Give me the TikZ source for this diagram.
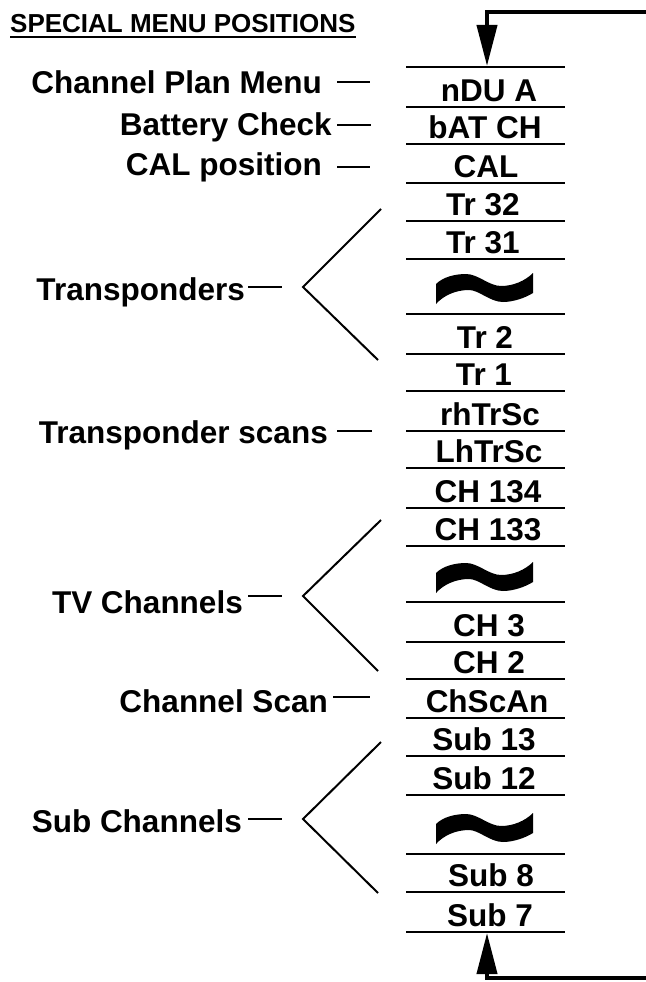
\documentclass[tikz,border=0pt]{standalone}
\usepackage{fontspec}
\setmainfont{Liberation Sans}
\usetikzlibrary{arrows.meta}
\begin{document}
\begin{tikzpicture}[x=1pt,y=-1pt,
  lab/.style={font=\fontsize{31.5}{36}\selectfont\bfseries, inner sep=0pt, anchor=base},
  llab/.style={lab, anchor=base east},
  sepline/.style={line width=2pt},
  tick/.style={line width=2pt},
  brk/.style={line width=2pt, line join=miter},
  loopline/.style={line width=4pt, line join=miter, -{Triangle[width=20pt,length=41pt]}},
  wave/.pic={\fill (-49,16) -- (-49,-4) .. controls (-42,-11) and (-30,-14) .. (-19,-14)
     .. controls (-7,-14) and (4,-2) .. (16,-2) .. controls (28,-2) and (40,-7) .. (48,-15)
     -- (48,5) .. controls (40,10) and (28,14) .. (18,14) .. controls (5,14) and (-6,2) .. (-16,2)
     .. controls (-30,2) and (-42,8) .. (-49,16) -- cycle;}]
\useasboundingbox (0,0) rectangle (645,982);

% title
\node[anchor=base west, font=\fontsize{26}{30}\selectfont\bfseries, inner sep=0pt] (title) at (10,33) {SPECIAL MENU POSITIONS};
\draw[line width=2.7pt] ([yshift=-4pt]title.base west) -- ([yshift=-4pt]title.base east);

% separators
\foreach \y in {67,107,144,183,221,259,314,354,391,431,468,508,546,602,642,679,718,756,795,854,892,932}
  \draw[sepline] (406,\y) -- (565,\y);

% right labels
\foreach \t/\x/\y [count=\i] in {nDU A/489/107, bAT CH/485/144, CAL/486/183, Tr 32/483/221, Tr 31/483/259,
   Tr 2/485/354, Tr 1/484/391, rhTrSc/490/431, LhTrSc/489/468, CH 134/488/508, CH 133/488/546,
   CH 3/489/642, CH 2/489/679, ChScAn/487/718, Sub 13/484/756, Sub 12/484/795, Sub 8/491/892, Sub 7/490/932}
  \node[lab] (r\i) at (\x,\y-6) {\t};

% tildes
\pic at (485,288) {wave};
\pic at (485,577) {wave};
\pic at (485,828) {wave};

% left labels with leader dashes
\node[llab] (l1) at (322,93) {Channel Plan Menu};
\draw[tick] (l1.base east) ++(15,-11) -- ++(33,0);
\node[llab] (l2) at (332,135) {Battery Check};
\draw[tick] (l2.base east) ++(5,-10) -- ++(34,0);
\node[llab] (l3) at (322,175) {CAL position};
\draw[tick] (l3.base east) ++(15,-8) -- ++(33,0);
\node[llab] (l4) at (245,300) {Transponders};
\draw[tick] (l4.base east) ++(3,-13) -- ++(34,0);
\node[llab] (l5) at (328,443) {Transponder scans};
\draw[tick] (l5.base east) ++(9,-12) -- ++(35,0);
\node[llab] (l6) at (243,613) {TV Channels};
\draw[tick] (l6.base east) ++(5,-17) -- ++(34,0);
\node[llab] (l7) at (328,712) {Channel Scan};
\draw[tick] (l7.base east) ++(5,-15) -- ++(37,0);
\node[llab] (l8) at (242,832) {Sub Channels};
\draw[tick] (l8.base east) ++(6,-13) -- ++(34,0);

% brackets
\coordinate (b1a) at (381,209); \coordinate (b1v) at (303,287); \coordinate (b1b) at (378,360);
\coordinate (b2a) at (381,520); \coordinate (b2v) at (303,596); \coordinate (b2b) at (378,671);
\coordinate (b3a) at (381,742); \coordinate (b3v) at (303,819); \coordinate (b3b) at (378,893);
\draw[brk] (b1a) -- (b1v) -- (b1b);
\draw[brk] (b2a) -- (b2v) -- (b2b);
\draw[brk] (b3a) -- (b3v) -- (b3b);

% loop-back arrows
\coordinate (topR) at (647,12); \coordinate (topC) at (487,12); \coordinate (topT) at (487,66);
\coordinate (botR) at (647,978); \coordinate (botC) at (487,978); \coordinate (botT) at (487,933);
\draw[loopline] (topR) -- (topC) -- (topT);
\draw[loopline] (botR) -- (botC) -- (botT);
\end{tikzpicture}
\end{document}
